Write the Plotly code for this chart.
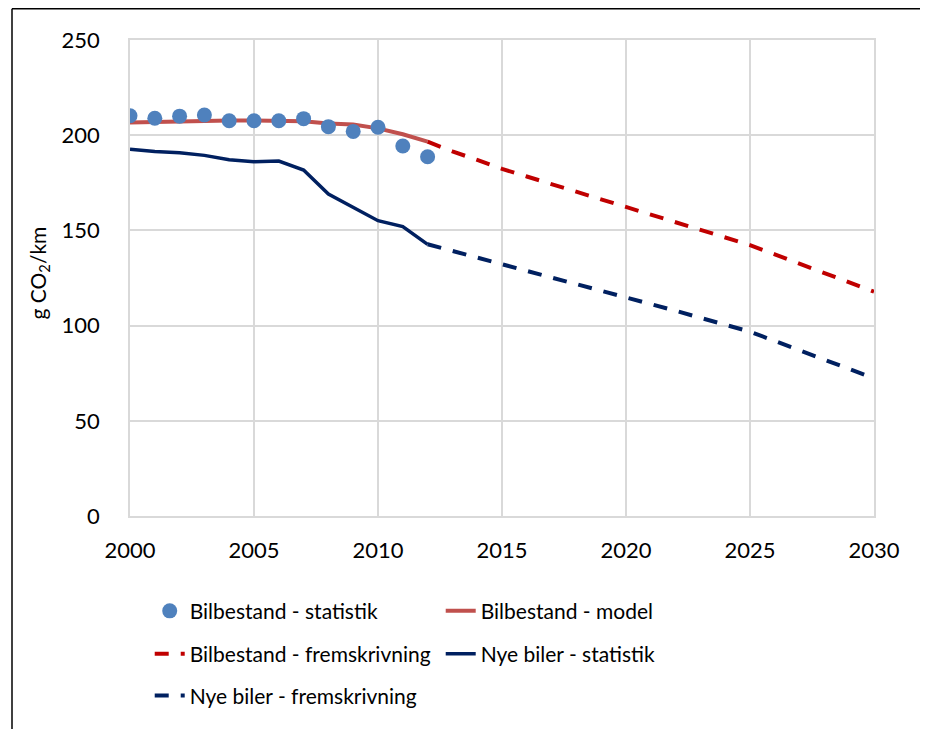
import plotly.graph_objects as go

FONT = "Lato, Roboto, sans-serif"

years_hist = list(range(2000, 2013))
years_proj = list(range(2012, 2031))

fleet_stat = [210.2, 208.9, 210.0, 210.6, 207.6, 207.6, 207.6, 208.7, 204.5, 202.0, 204.2, 194.3, 188.7]
fleet_model = [206.7, 207.0, 207.4, 207.6, 207.7, 207.7, 207.6, 207.3, 206.2, 205.6, 203.6, 200.5, 196.6]
fleet_proj = [196.6, 191.5, 187.0, 182.3, 178.3, 174.3, 170.3, 166.3, 162.3, 158.3, 154.3, 150.3, 146.3,
              142.3, 137.4, 132.5, 127.6, 122.7, 117.8]
new_stat = [192.6, 191.4, 190.8, 189.4, 187.1, 186.1, 186.4, 181.7, 169.1, 162.1, 155.1, 152.0, 142.7]
new_proj = [142.7, 139.2, 135.7, 132.2, 128.8, 125.4, 122.0, 118.6, 115.2, 111.5, 107.8, 104.1, 100.4,
            96.8, 91.9, 87.0, 82.1, 77.2, 72.3]

fig = go.Figure()
# lines first so the statistik markers sit on top
fig.add_trace(go.Scatter(x=years_hist, y=fleet_model, mode="lines", name="Bilbestand - model",
                         line=dict(color="#C0504D", width=4), legend="legend", legendrank=2))
fig.add_trace(go.Scatter(x=years_proj, y=fleet_proj, mode="lines", name="Bilbestand - fremskrivning",
                         line=dict(color="#C00000", width=4, dash="14px,12px"), legend="legend2",
                         legendrank=1))
fig.add_trace(go.Scatter(x=years_hist, y=new_stat, mode="lines", name="Nye biler - statistik",
                         line=dict(color="#002060", width=3.5), legend="legend2", legendrank=2))
fig.add_trace(go.Scatter(x=years_proj, y=new_proj, mode="lines", name="Nye biler - fremskrivning",
                         line=dict(color="#002060", width=4, dash="14px,12px"), legend="legend3"))
fig.add_trace(go.Scatter(x=years_hist, y=fleet_stat, mode="markers", name="Bilbestand - statistik",
                         marker=dict(color="#4F81BD", size=15), legend="legend", legendrank=1))

leg = dict(orientation="h", x=0.0265, xanchor="left", yanchor="middle", entrywidth=246,
           entrywidthmode="pixels", font=dict(family=FONT, size=21, color="#000000"),
           bgcolor="rgba(0,0,0,0)", traceorder="normal")

# chart frame: only the top and left edges are visible in the crop
frame = dict(color="#000000", width=1.5)

# page body adds an 8px offset, so the figure is 8px smaller and margins shifted
fig.update_layout(
    width=920,
    height=721,
    margin=dict(l=122, r=54, t=32, b=213),
    paper_bgcolor="white",
    plot_bgcolor="white",
    font=dict(family=FONT, size=21, color="#000000"),
    xaxis=dict(range=[2000, 2030], tickvals=[2000, 2005, 2010, 2015, 2020, 2025, 2030],
               showgrid=True, gridcolor="#D9D9D9", gridwidth=1.5, zeroline=False,
               showline=True, linecolor="#D9D9D9", linewidth=1.5, mirror=True,
               ticks="", ticklabelstandoff=14, tickfont=dict(size=22)),
    yaxis=dict(range=[0, 250], tickvals=[0, 50, 100, 150, 200, 250],
               showgrid=True, gridcolor="#D9D9D9", gridwidth=1.5, zeroline=False,
               showline=True, linecolor="#D9D9D9", linewidth=1.5, mirror=True,
               ticks="", ticklabelstandoff=24, tickfont=dict(size=22)),
    legend=dict(leg, y=-0.2),
    legend2=dict(leg, y=-0.29),
    legend3=dict(leg, y=-0.378),
    annotations=[dict(text="g CO<sub>2</sub>/km", textangle=-90, x=-0.122, y=0.51,
                      xref="paper", yref="paper", xanchor="center", yanchor="middle",
                      showarrow=False, font=dict(family=FONT, size=21))],
    shapes=[
        dict(type="line", xref="paper", yref="paper", x0=-0.1586, x1=1.1, y0=1.0655, y1=1.0655,
             line=frame, layer="below"),
        dict(type="line", xref="paper", yref="paper", x0=-0.1586, x1=-0.1586, y0=-0.5, y1=1.0655,
             line=frame, layer="below"),
    ],
)

fig.write_html("out.html")
